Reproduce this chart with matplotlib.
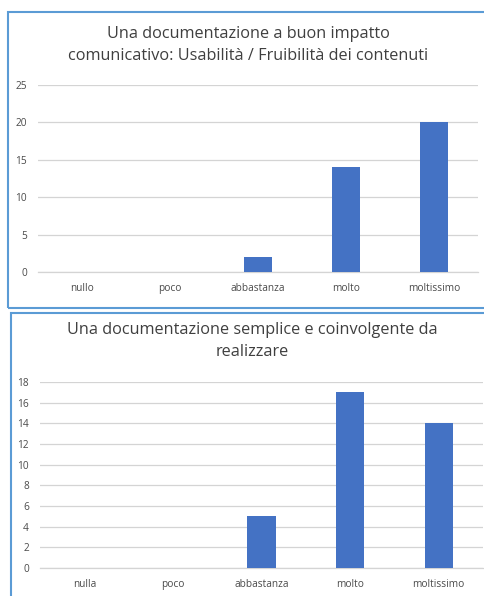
import matplotlib.pyplot as plt
from matplotlib.patches import Rectangle

# data
categories_top = ["nullo", "poco", "abbastanza", "molto", "moltissimo"]
values_top = [0, 0, 2, 14, 20]
title_top = "Una documentazione a buon impatto\ncomunicativo: Usabilità / Fruibilità dei contenuti"

categories_bottom = ["nulla", "poco", "abbastanza", "molto", "moltissimo"]
values_bottom = [0, 0, 5, 17, 14]
title_bottom = "Una documentazione semplice e coinvolgente da\nrealizzare"

W, H = 485, 596
bar_color = "#4472C4"
grid_color = "#D4D4D4"
text_color = "#4A4A4A"
title_color = "#3F3F3F"
border_color = "#5B9BD5"

plt.rcParams['font.family'] = ['Open Sans', 'DejaVu Sans']

fig = plt.figure(figsize=(W / 100, H / 100), dpi=100)
fig.patch.set_facecolor("white")


def px_axes(x0, x1, ytop, ybot):
    # pixel box (from top-left) -> figure fraction
    return fig.add_axes([x0 / W, 1 - ybot / H, (x1 - x0) / W, (ybot - ytop) / H])


def draw_chart(ax, cats, vals, ymax, step):
    ax.bar(range(len(cats)), vals, width=0.32, color=bar_color, zorder=3)
    ax.set_xlim(-0.5, len(cats) - 0.5)
    ax.set_ylim(0, ymax)
    ax.set_yticks(range(0, ymax + 1, step))
    ax.set_xticks(range(len(cats)))
    ax.set_xticklabels(cats)
    ax.yaxis.grid(True, color=grid_color, linewidth=0.9, zorder=0)
    for s in ["top", "right", "left"]:
        ax.spines[s].set_visible(False)
    ax.spines["bottom"].set_color(grid_color)
    ax.spines["bottom"].set_linewidth(0.9)
    ax.tick_params(axis="both", length=0, labelsize=7.3, labelcolor=text_color)
    ax.tick_params(axis="x", pad=14)
    ax.tick_params(axis="y", pad=8)
    # same baseline for all category labels
    for lbl in ax.get_xticklabels():
        lbl.set_va("baseline")
    ax.set_facecolor("none")


# panel borders
fig.patches.append(Rectangle((8 / W, 1 - 308 / H), 490 / W, 296 / H,
                             transform=fig.transFigure, fill=False,
                             edgecolor=border_color, linewidth=1.5))
fig.patches.append(Rectangle((11 / W, 1 - 600 / H), 490 / W, 287 / H,
                             transform=fig.transFigure, fill=False,
                             edgecolor=border_color, linewidth=1.5))

ax1 = px_axes(38, 478, 85, 272)
draw_chart(ax1, categories_top, values_top, 25, 5)
fig.text(248 / W, 1 - 45 / H, title_top, ha="center", va="center",
         fontsize=11.7, color=title_color, linespacing=1.45)

ax2 = px_axes(40, 483, 382, 568)
draw_chart(ax2, categories_bottom, values_bottom, 18, 2)
fig.text(252 / W, 1 - 341 / H, title_bottom, ha="center", va="center",
         fontsize=11.7, color=title_color, linespacing=1.45)

fig.savefig("out.png", dpi=100)
